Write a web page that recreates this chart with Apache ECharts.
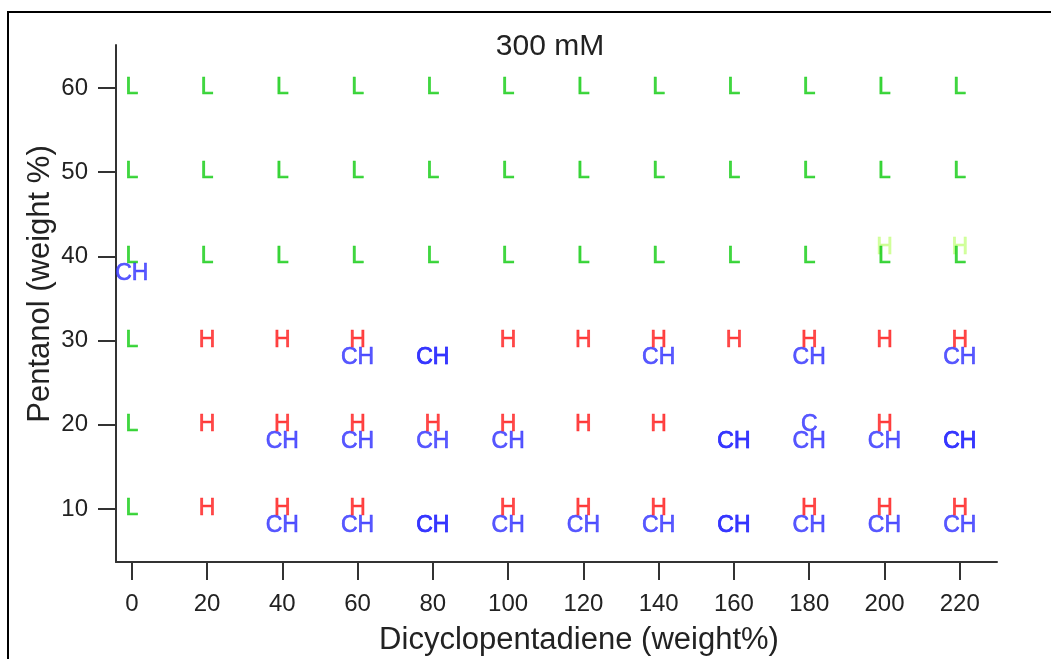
<!DOCTYPE html>
<html><head><meta charset="utf-8">
<script src="https://cdn.jsdelivr.net/npm/echarts@6/dist/echarts.min.js"></script>
<style>
html,body{margin:0;padding:0;background:#fff;overflow:hidden;}
#frame{position:absolute;left:7px;top:11px;width:1100px;height:700px;border-left:2px solid #000;border-top:2px solid #000;}
#chart{position:absolute;left:0;top:0;width:1051px;height:659px;}
</style></head><body>
<div id="frame"></div><div id="chart"></div>
<script>
const xTicks = [0, 20, 40, 60, 80, 100, 120, 140, 160, 180, 200, 220];
const yTicks = [10, 20, 30, 40, 50, 60];

// Green "L" points
const lPoints = [
  [0,60],[20,60],[40,60],[60,60],[80,60],[100,60],[120,60],[140,60],[160,60],[180,60],[200,60],[220,60],
  [0,50],[20,50],[40,50],[60,50],[80,50],[100,50],[120,50],[140,50],[160,50],[180,50],[200,50],[220,50],
  [0,40],[20,40],[40,40],[60,40],[80,40],[100,40],[120,40],[140,40],[160,40],[180,40],[200,40],[220,40],
  [0,30],[0,20],[0,10]
];
// Red "H" points
const hPoints = [
  [20,30],[40,30],[60,30],[100,30],[120,30],[140,30],[160,30],[180,30],[200,30],[220,30],
  [20,20],[40,20],[60,20],[80,20],[100,20],[120,20],[140,20],[200,20],
  [20,10],[40,10],[60,10],[100,10],[120,10],[140,10],[180,10],[200,10],[220,10]
];
// Pale green "H" points
const hPalePoints = [[200,41],[220,41]];
// Blue "CH" points (some drawn twice in the original)
const chPoints = [
  [0,38],
  [60,28],[80,28],[80,28],[140,28],[180,28],[220,28],
  [40,18],[60,18],[80,18],[100,18],[160,18],[160,18],[180,18],[200,18],[220,18],[220,18],
  [40,8],[60,8],[80,8],[80,8],[100,8],[120,8],[140,8],[160,8],[160,8],[180,8],[200,8],[220,8]
];
// Blue "C" points
const cPoints = [[180,20]];

const FONT = "'Liberation Sans', Arial, sans-serif";
const TXT = '#222';

function textSeries(name, data, text, color) {
  return {
    type: 'scatter', name: name, data: data, symbolSize: 1,
    itemStyle: { color: 'rgba(0,0,0,0)' },
    label: { show: true, position: 'inside', formatter: text, color: color, fontSize: 23, fontFamily: FONT,
             textBorderColor: color, textBorderWidth: 0.6 },
    emphasis: { disabled: true }, silent: true, animation: false
  };
}

const chart = echarts.init(document.getElementById('chart'), null, { renderer: 'canvas' });
chart.setOption({
  backgroundColor: 'transparent',
  animation: false,
  grid: { left: 116, right: 54, top: 45, bottom: 97, containLabel: false },
  xAxis: {
    type: 'value', min: -4.2, max: 229.9,
    axisLine: { show: true, onZero: false, lineStyle: { color: '#333', width: 2 } },
    axisTick: { show: true, inside: false, length: 18, lineStyle: { color: '#333', width: 2 }, customValues: xTicks },
    axisLabel: { show: true, margin: 30, fontSize: 24, color: TXT, fontFamily: FONT, customValues: xTicks },
    splitLine: { show: false }
  },
  yAxis: {
    type: 'value', min: 3.7, max: 65.1,
    axisLine: { show: true, onZero: false, lineStyle: { color: '#333', width: 2 } },
    axisTick: { show: true, inside: false, length: 18, lineStyle: { color: '#333', width: 2 }, customValues: yTicks },
    axisLabel: { show: true, margin: 28, fontSize: 24, color: TXT, fontFamily: FONT, customValues: yTicks },
    splitLine: { show: false }
  },
  graphic: [
    { type: 'text', x: 550, y: 47, style: { text: '300 mM', fill: TXT, font: '30px ' + FONT, textAlign: 'center', textVerticalAlign: 'middle' } },
    { type: 'text', x: 579, y: 640, style: { text: 'Dicyclopentadiene (weight%)', fill: TXT, font: '31px ' + FONT, textAlign: 'center', textVerticalAlign: 'middle' } },
    { type: 'text', x: 40, y: 284, rotation: Math.PI / 2, style: { text: 'Pentanol (weight %)', fill: TXT, font: '31px ' + FONT, textAlign: 'center', textVerticalAlign: 'middle' } }
  ],
  series: [
    textSeries('Hpale', hPalePoints, 'H', '#c8ff88'),
    textSeries('L', lPoints, 'L', '#12cc12'),
    textSeries('CH', chPoints, 'CH', '#3030ff'),
    textSeries('C', cPoints, 'C', '#3030ff'),
    textSeries('H', hPoints, 'H', '#ff1a1a')
  ]
});
</script>
</body></html>
